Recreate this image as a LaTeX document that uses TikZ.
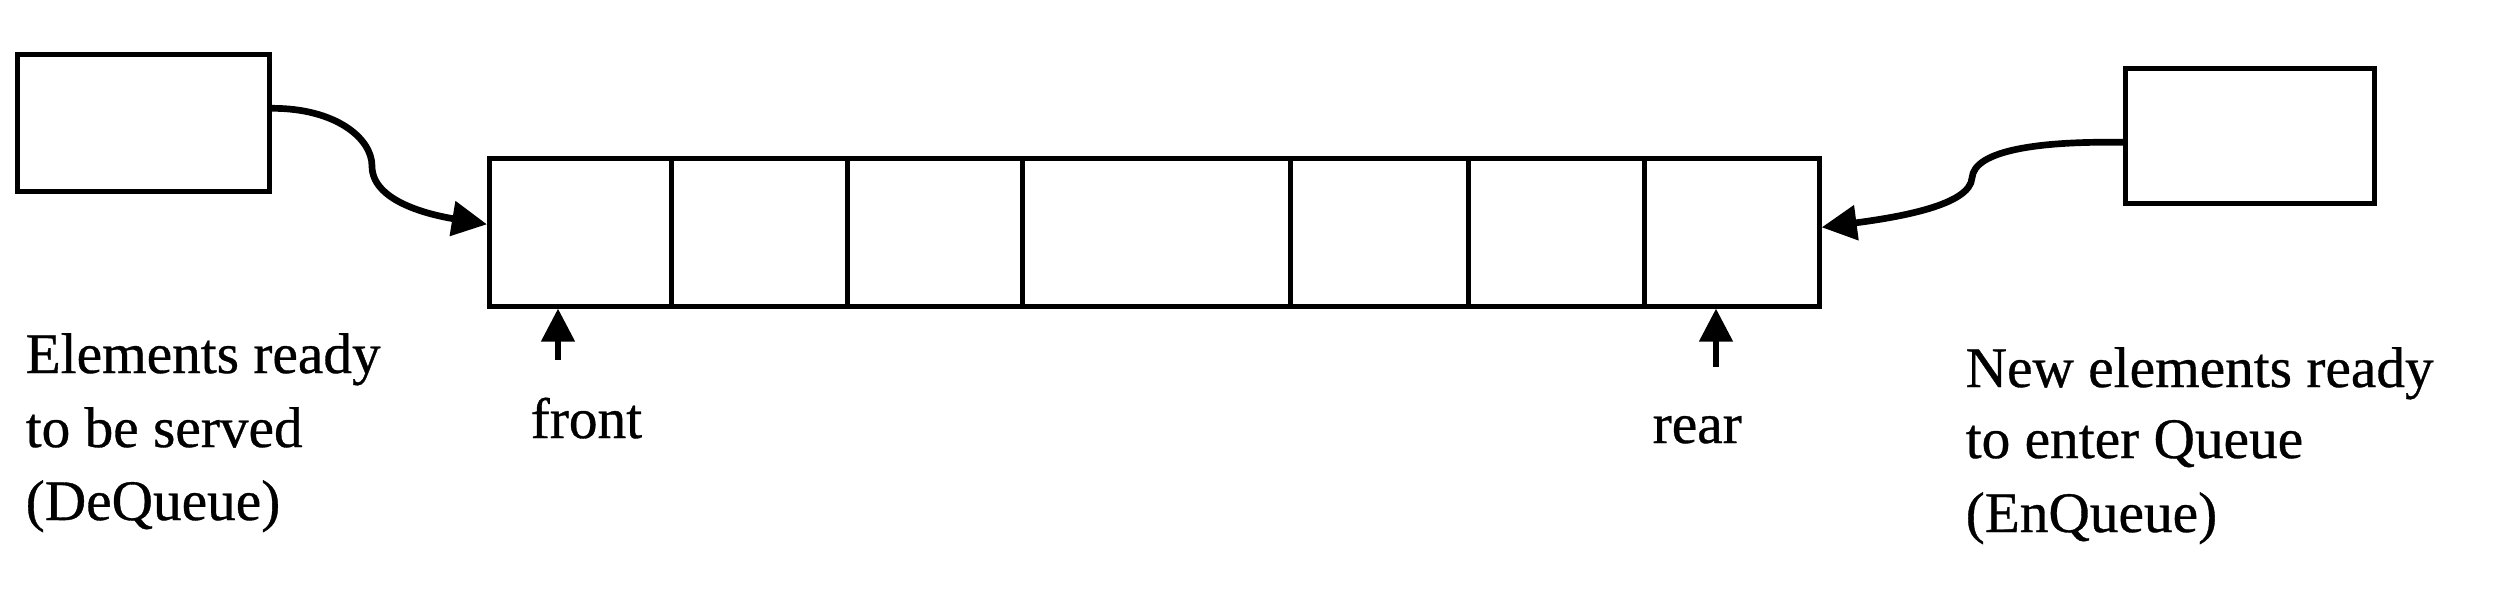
\documentclass[tikz,border=0pt]{standalone}
\usepackage{fontspec}
\setmainfont{Liberation Serif}[FakeBold=0.6]
\usetikzlibrary{arrows.meta}
\begin{document}
\begin{tikzpicture}[x=0.01cm,y=-0.01cm,
  box/.style={draw, line width=1.3pt, inner sep=0pt, anchor=north west},
  conn/.style={line width=1.9pt, -{Triangle[length=0.35cm,width=0.34cm]}},
  ptr/.style={line width=1.45pt, -{Triangle[length=0.33cm,width=0.33cm]}},
  lbl/.style={anchor=base west, inner sep=0pt, font=\fontsize{16.3pt}{21pt}\selectfont}]
\useasboundingbox (0,0) rectangle (2496,590);
% source and destination boxes
\node[box, minimum width=2.52cm, minimum height=1.37cm] (src) at (15,52) {};
\node[box, minimum width=2.49cm, minimum height=1.35cm] (dst) at (2123,66) {};
% queue cells
\node[box, minimum width=1.82cm, minimum height=1.48cm] (c1) at (487,156) {};
\node[box, minimum width=1.76cm, minimum height=1.48cm] (c2) at (669,156) {};
\node[box, minimum width=1.75cm, minimum height=1.48cm] (c3) at (845,156) {};
\node[box, minimum width=2.68cm, minimum height=1.48cm] (c4) at (1020,156) {};
\node[box, minimum width=1.78cm, minimum height=1.48cm] (c5) at (1288,156) {};
\node[box, minimum width=1.76cm, minimum height=1.48cm] (c6) at (1466,156) {};
\node[box, minimum width=1.75cm, minimum height=1.48cm] (c7) at (1642,156) {};
% connectors
\draw[conn] ([yshift=1.45mm]src.east) .. controls (335,108) and (372,138) .. (372,166)
  .. controls (372,200) and (425,214) .. ([yshift=0.8mm]c1.west);
\draw[conn] ([yshift=-0.65mm]dst.west) .. controls (2040,141) and (1974,150) .. (1972,178)
  .. controls (1970,205) and (1900,217) .. ([yshift=0.5mm]c7.east);
% pointers
\coordinate (ftail) at (558,360);
\coordinate (rtail) at (1716,367);
\draw[ptr] (ftail) -- (ftail |- c1.south);
\draw[ptr] (rtail) -- (rtail |- c7.south);
% labels
\node[lbl] (front) at (530,438) {front};
\node[lbl] (rear) at (1652,443) {rear};
\node[lbl] (l1) at (25,373) {Elements ready};
\node[lbl] (l2) at (25,447) {to be served};
\node[lbl] (l3) at (25,520) {(DeQueue)};
\node[lbl] (r1) at (1965,387) {New elements ready};
\node[lbl] (r2) at (1965,458) {to enter Queue};
\node[lbl] (r3) at (1965,532) {(EnQueue)};
\end{tikzpicture}
\end{document}
